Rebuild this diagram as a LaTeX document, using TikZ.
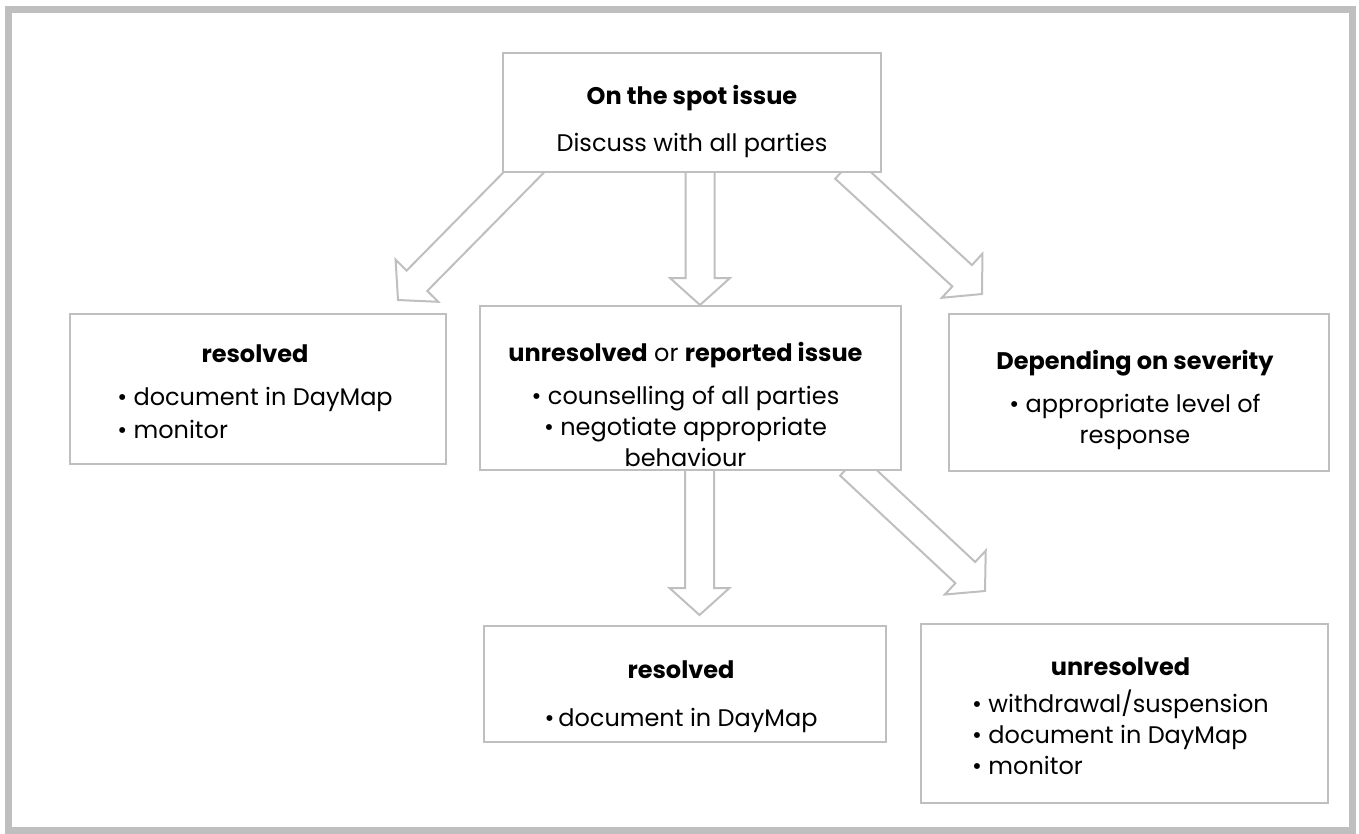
\documentclass[tikz,border=0pt]{standalone}
\usepackage{fontspec}
\setmainfont{Poppins}
\usetikzlibrary{calc,backgrounds,positioning}

\definecolor{lineGray}{HTML}{BFBFBF}

\tikzset{
    box/.style={draw=lineGray, line width=2pt, fill=white, inner sep=0pt},
    txt/.style={align=center, inner sep=0pt, font=\fontsize{24}{31}\selectfont},
    blk/.style={draw=lineGray, line width=2pt, fill=white, line join=miter},
}

% hollow block arrow from #1 to #2
\newcommand{\blockarrow}[2]{%
    \coordinate (hb) at ($(#2)!27pt!(#1)$);
    \draw[blk] ($(#1)!14.5pt!90:(#2)$) -- ($(hb)!14.5pt!90:(#2)$)
        -- ($(hb)!30pt!90:(#2)$) -- (#2) -- ($(hb)!30pt!-90:(#2)$)
        -- ($(hb)!14.5pt!-90:(#2)$) -- ($(#1)!14.5pt!-90:(#2)$) -- cycle;
}

\begin{document}
\begin{tikzpicture}[x=1pt, y=1pt]
    \useasboundingbox (0,0) rectangle (1359,-833);
    \draw[lineGray, line width=7pt] (8,-9.5) rectangle (1352,-830.5);

    % boxes
    \node[box, minimum width=378pt, minimum height=119pt] (spot) at (692,-112.5) {};
    \node[box, minimum width=376pt, minimum height=150pt] (res) at (258,-389) {};
    \node[box, minimum width=421pt, minimum height=164pt] (unres) at (690.5,-388) {};
    \node[box, minimum width=380pt, minimum height=157pt] (sev) at (1139,-392.5) {};
    \node[box, minimum width=402pt, minimum height=116pt] (res2) at (685,-684) {};
    \node[box, minimum width=407pt, minimum height=179pt] (unres2) at (1124.5,-713.5) {};

    % texts
    \node[txt] (spotT) at ([shift={(0,-9)}]spot.center)
        {\textbf{On the spot issue}\\[16pt] Discuss with all parties};
    \node[txt] (resT) at ([shift={(-3,-7)}]res.center)
        {\textbf{resolved}\\[12pt]
         \begin{tabular}[t]{@{}l@{}}\textbullet\ document in DayMap\\[2pt] \textbullet\ monitor\end{tabular}};
    \node[txt] (unresT) at ([shift={(-5,-16)}]unres.center)
        {\textbf{unresolved} or \textbf{reported issue}\\[12pt]
         \textbullet\ counselling of all parties\\ \textbullet\ negotiate appropriate\\ behaviour};
    \node[txt] (sevT) at ([shift={(-4,-7)}]sev.center)
        {\textbf{Depending on severity}\\[12pt] \textbullet\ appropriate level of\\ response};
    \node[txt] (res2T) at ([shift={(-4,-13)}]res2.center)
        {\textbf{resolved}\\[17pt] \textbullet\,document in DayMap};
    \node[txt] (unres2T) at ([shift={(-4,-7)}]unres2.center)
        {\textbf{unresolved}\\[6pt]
         \begin{tabular}[t]{@{}l@{}}\textbullet\ withdrawal/suspension\\ \textbullet\ document in DayMap\\ \textbullet\ monitor\end{tabular}};

    % arrow ends
    \coordinate (a1s) at ([shift={(31,10)}]spot.south west);
    \coordinate (a1e) at ([shift={(329,13)}]res.north west);
    \coordinate (a2s) at ([shift={(8,13)}]spot.south);
    \coordinate (a2e) at (unres.north -| a2s);
    \coordinate (a3s) at ([shift={(-37,5)}]spot.south east);
    \coordinate (a3e) at ([shift={(34,19)}]sev.north west);
    \coordinate (a4s) at ([shift={(9,11)}]unres.south);
    \coordinate (a4e) at ([yshift=10pt]res2.north -| a4s);
    \coordinate (a5s) at ([shift={(-52,6)}]unres.south east);
    \coordinate (a5e) at ([shift={(65,32)}]unres2.north west);

    % arrows behind the boxes
    \begin{scope}[on background layer]
        \blockarrow{a1s}{a1e}
        \blockarrow{a2s}{a2e}
        \blockarrow{a3s}{a3e}
        \blockarrow{a4s}{a4e}
        \blockarrow{a5s}{a5e}
    \end{scope}
\end{tikzpicture}
\end{document}
